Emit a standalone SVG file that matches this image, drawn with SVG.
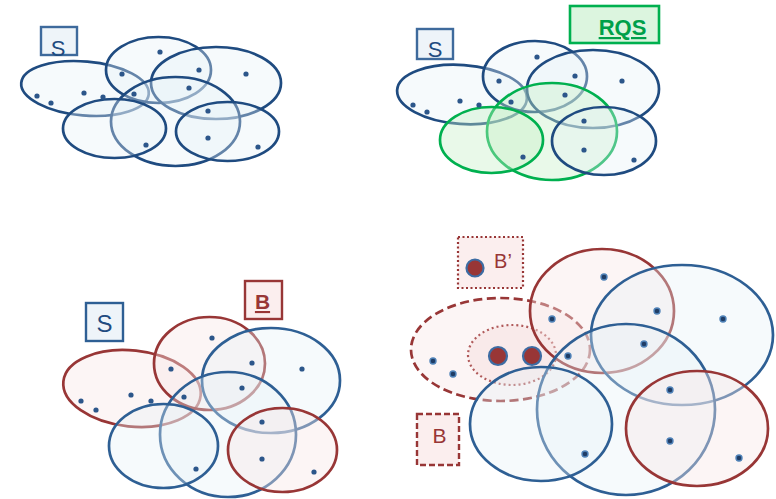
<svg xmlns="http://www.w3.org/2000/svg" width="776" height="499" viewBox="0 0 776 499">
  <style>
    .lbl { font-family: "Liberation Sans", Arial, sans-serif; text-anchor: middle; }
    .blue { fill: #e6f0f7; fill-opacity: 0.35; stroke: #1f4b80; stroke-width: 2.7; }
    .blue2 { fill: #e6f0f7; fill-opacity: 0.35; stroke: #2e5f94; stroke-width: 2.7; }
    .green { fill: #c4efc4; fill-opacity: 0.38; stroke: #00b04f; stroke-width: 2.7; }
    .red { fill: #f8e6e6; fill-opacity: 0.4; stroke: #983636; stroke-width: 2.7; }
    .dot { fill: #2c568a; }
    .dot4 { fill: #1f3d66; stroke: #4f82b8; stroke-width: 1.4; }
    .big { fill: #983636; stroke: #3d6ca3; stroke-width: 2.2; }
  </style>

  <!-- Panel 1: set S -->
  <g id="panel-s">
    <g id="s-box">
      <rect x="41" y="27" width="36" height="28" fill="#eef4f9" stroke="#3e6a9c" stroke-width="2.4"/>
      <text class="lbl" x="58" y="56" font-size="22" fill="#1f4b80">S</text>
    </g>
    <g id="p1-sets">
      <ellipse class="blue" cx="85" cy="88.5" rx="64" ry="27" transform="rotate(5 85 88.5)"/>
      <ellipse class="blue" cx="158.5" cy="70" rx="52.5" ry="33"/>
      <ellipse class="blue" cx="216" cy="83" rx="65" ry="36"/>
      <ellipse class="blue" cx="175.5" cy="121.5" rx="64.5" ry="44.5"/>
      <ellipse class="blue" cx="114.5" cy="128.5" rx="51.5" ry="29.5"/>
      <ellipse class="blue" cx="227.5" cy="131.5" rx="51.5" ry="29.5"/>
    </g>
    <g id="p1-points">
      <circle class="dot" cx="160" cy="52" r="2.6"/>
      <circle class="dot" cx="122" cy="74" r="2.6"/>
      <circle class="dot" cx="199" cy="70" r="2.6"/>
      <circle class="dot" cx="246" cy="74" r="2.6"/>
      <circle class="dot" cx="37" cy="96" r="2.6"/>
      <circle class="dot" cx="51" cy="103" r="2.6"/>
      <circle class="dot" cx="84" cy="93" r="2.6"/>
      <circle class="dot" cx="103" cy="97" r="2.6"/>
      <circle class="dot" cx="134" cy="94" r="2.6"/>
      <circle class="dot" cx="189" cy="88" r="2.6"/>
      <circle class="dot" cx="208" cy="111" r="2.6"/>
      <circle class="dot" cx="208" cy="138" r="2.6"/>
      <circle class="dot" cx="146" cy="145" r="2.6"/>
      <circle class="dot" cx="258" cy="147" r="2.6"/>
    </g>
  </g>

  <!-- Panel 2: S with the query result RQS -->
  <g id="panel-rqs">
    <g id="rqs-box">
      <rect x="570" y="6" width="89" height="37" fill="#dcf5df" stroke="#00b04f" stroke-width="2.6"/>
      <text class="lbl" x="622.5" y="35" font-size="22" font-weight="bold" fill="#00a04a" text-decoration="underline">RQS</text>
    </g>
    <g id="s-box-2">
      <rect x="417" y="29" width="36" height="30" fill="#eef4f9" stroke="#3e6a9c" stroke-width="2.4"/>
      <text class="lbl" x="435" y="57" font-size="22" fill="#1f4b80">S</text>
    </g>
    <g id="p2-sets">
      <ellipse class="blue" cx="462" cy="94.5" rx="65" ry="29.5" transform="rotate(4 462 94.5)"/>
      <ellipse class="blue" cx="535" cy="76.5" rx="52" ry="35.5"/>
      <ellipse class="blue" cx="593" cy="89" rx="66" ry="39"/>
      <ellipse class="green" cx="552" cy="131.5" rx="65" ry="48.5"/>
      <ellipse class="green" cx="491.5" cy="140" rx="51.5" ry="33"/>
      <ellipse class="blue" cx="604" cy="141" rx="52" ry="34"/>
    </g>
    <g id="p2-points">
      <circle class="dot" cx="537" cy="57" r="2.6"/>
      <circle class="dot" cx="499" cy="81" r="2.6"/>
      <circle class="dot" cx="575" cy="76" r="2.6"/>
      <circle class="dot" cx="622" cy="81" r="2.6"/>
      <circle class="dot" cx="413" cy="105" r="2.6"/>
      <circle class="dot" cx="427" cy="112" r="2.6"/>
      <circle class="dot" cx="460" cy="101" r="2.6"/>
      <circle class="dot" cx="479" cy="105" r="2.6"/>
      <circle class="dot" cx="511" cy="102" r="2.6"/>
      <circle class="dot" cx="565" cy="95" r="2.6"/>
      <circle class="dot" cx="584" cy="121" r="2.6"/>
      <circle class="dot" cx="584" cy="150" r="2.6"/>
      <circle class="dot" cx="523" cy="157" r="2.6"/>
      <circle class="dot" cx="634" cy="160" r="2.6"/>
    </g>
  </g>

  <!-- Panel 3: S with the selected sets B -->
  <g id="panel-b">
    <g id="s-box-3">
      <rect x="86" y="303" width="37" height="38" fill="#eef4f9" stroke="#2e5f94" stroke-width="2.4"/>
      <text class="lbl" x="104.5" y="332" font-size="24" fill="#1f4b80">S</text>
    </g>
    <g id="b-box">
      <rect x="245" y="281" width="37" height="38" fill="#fbeeee" stroke="#983636" stroke-width="2.4"/>
      <text class="lbl" x="262.5" y="309" font-size="21" font-weight="bold" fill="#983636" text-decoration="underline">B</text>
    </g>
    <g id="p3-sets">
      <ellipse class="red" cx="132" cy="388.5" rx="69" ry="38" transform="rotate(6 132 388.5)"/>
      <ellipse class="red" cx="209.5" cy="363.5" rx="55.5" ry="46.5"/>
      <ellipse class="blue2" cx="271" cy="380.5" rx="69" ry="52.5"/>
      <ellipse class="blue2" cx="228" cy="434.5" rx="68" ry="62.5"/>
      <ellipse class="blue2" cx="163.5" cy="446" rx="54.5" ry="42"/>
      <ellipse class="red" cx="282.5" cy="450" rx="54.5" ry="42"/>
    </g>
    <g id="p3-points">
      <circle class="dot" cx="212" cy="338" r="2.6"/>
      <circle class="dot" cx="252" cy="363" r="2.6"/>
      <circle class="dot" cx="302" cy="369" r="2.6"/>
      <circle class="dot" cx="171" cy="369" r="2.6"/>
      <circle class="dot" cx="81" cy="401" r="2.6"/>
      <circle class="dot" cx="96" cy="410" r="2.6"/>
      <circle class="dot" cx="131" cy="395" r="2.6"/>
      <circle class="dot" cx="151" cy="401" r="2.6"/>
      <circle class="dot" cx="184" cy="397" r="2.6"/>
      <circle class="dot" cx="242" cy="388" r="2.6"/>
      <circle class="dot" cx="262" cy="422" r="2.6"/>
      <circle class="dot" cx="262" cy="459" r="2.6"/>
      <circle class="dot" cx="196" cy="469" r="2.6"/>
      <circle class="dot" cx="314" cy="472" r="2.6"/>
    </g>
  </g>

  <!-- Panel 4: merged sets B and B' -->
  <g id="panel-bprime">
    <g id="bprime-box">
      <rect x="458" y="237" width="65" height="51" fill="#fbeeee" stroke="#983636" stroke-width="2.2" stroke-dasharray="2 2.5"/>
      <circle class="big" cx="475" cy="268" r="8.5"/>
      <text class="lbl" x="503" y="268" font-size="20" fill="#983636">B’</text>
    </g>
    <g id="b-box-4">
      <rect x="417" y="414" width="42" height="51" fill="#fbeeee" stroke="#983636" stroke-width="2.4" stroke-dasharray="6 3"/>
      <text class="lbl" x="439.5" y="443" font-size="21" fill="#983636">B</text>
    </g>
    <g id="p4-sets">
      <ellipse class="red" cx="500.5" cy="349.5" rx="89.5" ry="51.5" stroke-dasharray="9 4.5"/>
      <ellipse cx="512" cy="355" rx="44" ry="30" fill="#f7dede" fill-opacity="0.45" stroke="#b05a5a" stroke-width="2.2" stroke-dasharray="2 3"/>
      <ellipse class="red" cx="602" cy="311" rx="72" ry="62"/>
      <ellipse class="blue2" cx="682" cy="335" rx="91" ry="70"/>
      <ellipse class="blue2" cx="626" cy="409.5" rx="89" ry="85.5"/>
      <ellipse class="blue2" cx="541" cy="424" rx="71" ry="57"/>
      <ellipse class="red" cx="697" cy="428.5" rx="71" ry="57.5"/>
    </g>
    <g id="p4-points">
      <circle class="big" cx="498" cy="356" r="9"/>
      <circle class="big" cx="532" cy="356" r="9"/>
      <circle class="dot4" cx="604" cy="277" r="3"/>
      <circle class="dot4" cx="657" cy="311" r="3"/>
      <circle class="dot4" cx="723" cy="319" r="3"/>
      <circle class="dot4" cx="552" cy="319" r="3"/>
      <circle class="dot4" cx="433" cy="361" r="3"/>
      <circle class="dot4" cx="453" cy="374" r="3"/>
      <circle class="dot4" cx="568" cy="356" r="3"/>
      <circle class="dot4" cx="644" cy="344" r="3"/>
      <circle class="dot4" cx="670" cy="390" r="3"/>
      <circle class="dot4" cx="670" cy="441" r="3"/>
      <circle class="dot4" cx="585" cy="454" r="3"/>
      <circle class="dot4" cx="739" cy="458" r="3"/>
    </g>
  </g>
</svg>
